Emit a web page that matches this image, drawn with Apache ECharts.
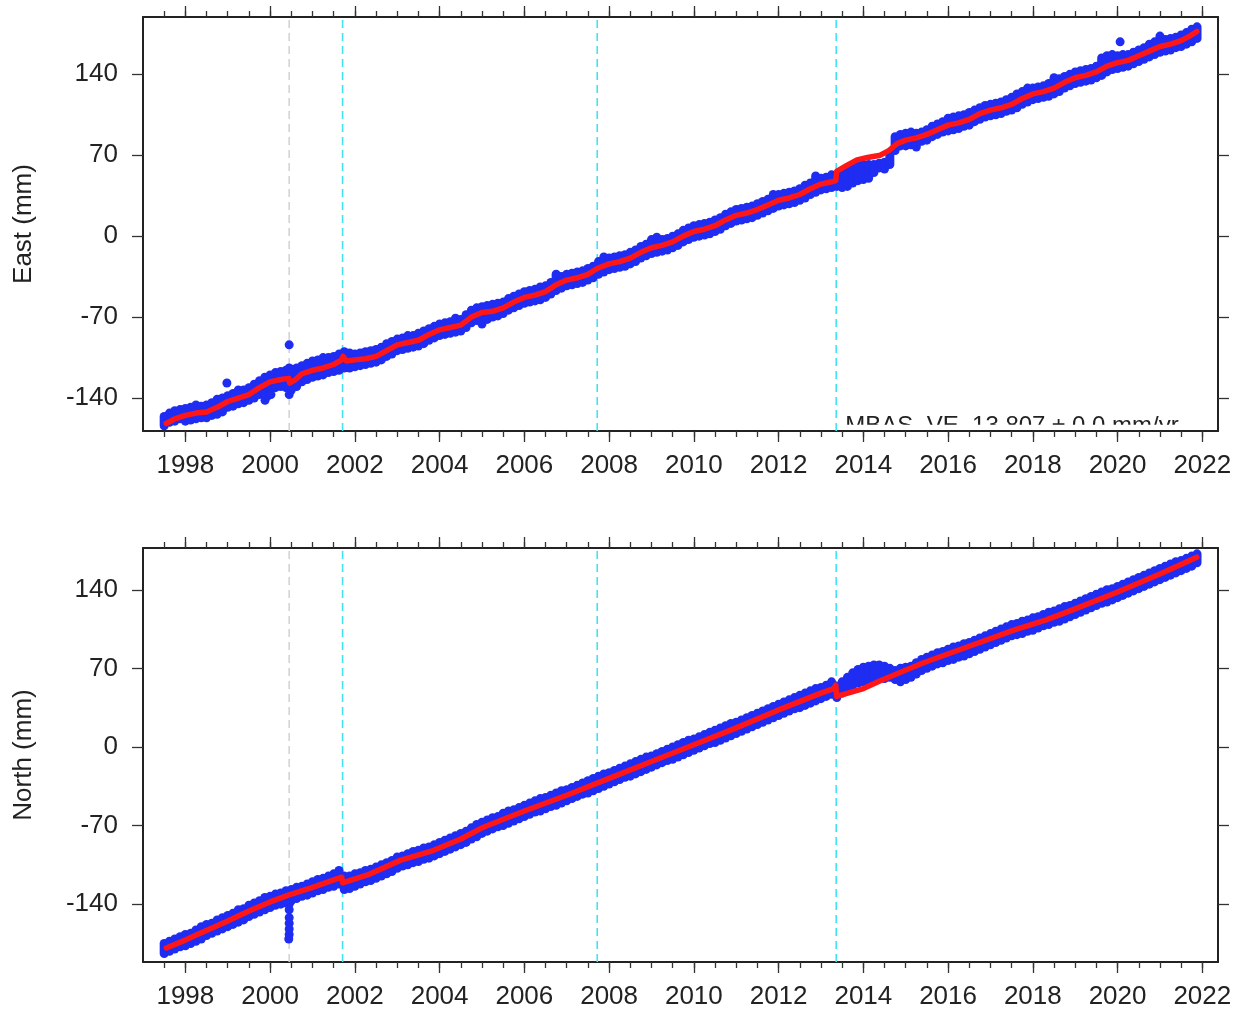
<!DOCTYPE html>
<html>
<head>
<meta charset="utf-8">
<script src="https://cdn.jsdelivr.net/npm/echarts@6/dist/echarts.min.js"></script>
<style>
  html, body { margin: 0; padding: 0; background: #fff; }
  #chart { width: 1244px; height: 1012px; }
</style>
</head>
<body>
<div id="chart"></div>
<script>
// Daily positions are summarised on an eighth-of-a-year grid starting at EPOCH0:
// for each epoch the upper and lower observed value (mm).
const EPOCH0 = 1997.5;
const EPOCH_STEP = 0.125;

// ---------------- East component ----------------
const eastHi = [
  -156, -153, -151, -150,
  -149, -148, -146, -147, -146, -144, -141, -140,   // 1998
  -138, -136, -133, -133, -131, -128, -125, -122,   // 1999
  -120, -118, -117, -116, -115, -114, -112, -110,   // 2000
  -108, -107, -105, -105, -104, -102, -100, -101,   // 2001
  -102, -101, -100, -99, -98, -96, -93, -91,        // 2002
  -89, -88, -86, -86, -84, -82, -80, -78,           // 2003
  -76, -75, -74, -71, -72, -68, -64, -62,           // 2004
  -61, -60, -59, -58, -57, -54, -52, -50,           // 2005
  -48, -47, -46, -44, -43, -40, -33, -35,           // 2006
  -33, -32, -31, -30, -28, -26, -22, -18,           // 2007
  -19, -18, -17, -16, -14, -12, -9, -7,             // 2008
  -3, -1, -3, -2, 0, 2, 5, 7,                       // 2009
  9, 10, 11, 12, 14, 16, 19, 21,                    // 2010
  23, 24, 25, 26, 28, 30, 32, 36,                   // 2011
  36, 37, 38, 39, 41, 44, 46, 52,                   // 2012
  50, 51, 53, 53, 54, 56, 59, 61,                   // 2013
  62, 62, 62, 63, 64, 72, 86, 88,                   // 2014
  89, 90, 89, 90, 92, 95, 97, 99,                   // 2015
  102, 103, 104, 105, 107, 109, 111, 113,           // 2016
  114, 115, 116, 118, 120, 123, 125, 128,           // 2017
  128, 129, 130, 132, 137, 136, 138, 140,           // 2018
  142, 143, 144, 145, 147, 154, 156, 157,           // 2019
  156, 157, 157, 159, 161, 163, 166, 168,           // 2020
  173, 170, 171, 172, 174, 176, 179, 181            // 2021
];
const eastLo = [
  -164, -161, -160, -158,
  -160, -159, -158, -157, -157, -155, -154, -152,   // 1998
  -148, -147, -145, -144, -142, -140, -137, -134,   // 1999
  -133, -131, -130, -131, -133, -130, -126, -124,   // 2000
  -122, -121, -120, -118, -117, -116, -114, -114,   // 2001
  -113, -112, -111, -110, -109, -107, -104, -102,   // 2002
  -99, -98, -97, -96, -95, -93, -90, -88,           // 2003
  -86, -85, -84, -83, -82, -79, -75, -73,           // 2004
  -76, -72, -70, -69, -67, -64, -62, -60,           // 2005
  -58, -57, -56, -55, -53, -50, -47, -45,           // 2006
  -43, -42, -41, -40, -38, -36, -33, -31,           // 2007
  -29, -28, -27, -26, -24, -22, -19, -17,           // 2008
  -15, -14, -13, -12, -10, -8, -5, -3,              // 2009
  -1, 0, 1, 2, 4, 6, 9, 11,                         // 2010
  13, 14, 15, 16, 18, 20, 22, 24,                   // 2011
  26, 27, 28, 29, 31, 33, 36, 38,                   // 2012
  40, 41, 42, 43, 42, 43, 46, 48,                   // 2013
  49, 50, 55, 59, 58, 62, 74, 78,                   // 2014
  78, 79, 77, 82, 83, 86, 88, 90,                   // 2015
  91, 92, 93, 95, 96, 99, 101, 103,                 // 2016
  104, 105, 106, 108, 109, 111, 114, 116,           // 2017
  118, 119, 120, 121, 123, 125, 128, 130,           // 2018
  132, 133, 134, 135, 137, 139, 142, 144,           // 2019
  145, 146, 147, 149, 151, 153, 155, 157,           // 2020
  159, 160, 161, 163, 164, 166, 168, 171            // 2021
];
// isolated East observations
const eastOutT = [1998.98, 1999.88, 1999.95, 2000.02, 2000.45, 2000.45, 2000.45, 2000.45, 2000.45, 2020.06];
const eastOutV = [-127, -142, -138, -137, -94, -114, -122, -130, -137, 168];
// East trajectory model
const eastModelT = [1997.55, 1997.75, 1998.0, 1998.25, 1998.5, 1998.75, 1999.0, 1999.25, 1999.5, 1999.75,
  2000.0, 2000.25, 2000.44, 2000.46, 2000.6, 2000.75, 2001.0, 2001.25, 2001.5, 2001.69, 2001.72, 2001.8,
  2002.0, 2002.25, 2002.5, 2002.75, 2003.0, 2003.25, 2003.5, 2003.75, 2004.0, 2004.25, 2004.5, 2004.75,
  2005.0, 2005.25, 2005.5, 2005.75, 2006.0, 2006.25, 2006.5, 2006.75, 2007.0, 2007.25, 2007.5, 2007.72,
  2008.0, 2008.25, 2008.5, 2008.75, 2009.0, 2009.25, 2009.5, 2009.75, 2010.0, 2010.25, 2010.5, 2010.75,
  2011.0, 2011.25, 2011.5, 2011.75, 2012.0, 2012.25, 2012.5, 2012.75, 2013.0, 2013.25, 2013.35, 2013.37,
  2013.6, 2013.85, 2014.1, 2014.4, 2014.6, 2014.8, 2015.0, 2015.25, 2015.5, 2015.75, 2016.0, 2016.25,
  2016.5, 2016.75, 2017.0, 2017.25, 2017.5, 2017.75, 2018.0, 2018.25, 2018.5, 2018.75, 2019.0, 2019.25,
  2019.5, 2019.75, 2020.0, 2020.25, 2020.5, 2020.75, 2021.0, 2021.25, 2021.5, 2021.7, 2021.87];
const eastModelV = [-162, -158, -155, -153, -152, -148, -143, -140, -137, -131,
  -126, -124, -123, -127, -124, -119, -116, -114, -111, -107, -104, -108,
  -107, -106, -104, -99, -94, -92, -90, -85, -81, -79, -77, -70,
  -66, -65, -62, -57, -53, -51, -48, -42, -38, -36, -33, -28,
  -24, -22, -19, -14, -10, -8, -5, 0, 4, 6, 9, 14,
  18, 20, 23, 27, 31, 33, 36, 41, 45, 47, 48, 56,
  61, 66, 68, 70, 74, 80, 83, 85, 88, 92, 96, 98,
  101, 106, 109, 111, 114, 119, 123, 125, 128, 133, 137, 139,
  142, 147, 150, 152, 156, 160, 164, 166, 169, 173, 177];

// ---------------- North component ----------------
const northHi = [
  -175, -173, -171, -169,
  -167, -166, -163, -160, -158, -157, -154, -152,   // 1998
  -150, -148, -145, -144, -141, -139, -137, -134,   // 1999
  -133, -131, -130, -128, -127, -125, -124, -122,   // 2000
  -120, -118, -117, -115, -113, -110, -115, -115,   // 2001
  -113, -112, -110, -109, -107, -105, -103, -101,   // 2002
  -98, -97, -95, -93, -92, -90, -89, -87,           // 2003
  -85, -83, -81, -79, -77, -75, -72, -69,           // 2004
  -67, -65, -63, -62, -59, -57, -56, -54,           // 2005
  -52, -50, -48, -46, -45, -43, -41, -39,           // 2006
  -38, -36, -34, -32, -30, -28, -26, -24,           // 2007
  -23, -21, -19, -17, -15, -13, -11, -9,            // 2008
  -8, -6, -4, -2, 0, 2, 4, 6,                       // 2009
  7, 9, 11, 13, 15, 17, 19, 21,                     // 2010
  22, 24, 26, 28, 30, 32, 34, 36,                   // 2011
  38, 40, 42, 44, 46, 48, 50, 52,                   // 2012
  53, 55, 58, 54, 58, 62, 66, 69,                   // 2013
  71, 72, 73, 73, 72, 70, 68, 70,                   // 2014
  71, 72, 75, 78, 80, 82, 84, 85,                   // 2015
  87, 89, 90, 92, 93, 95, 97, 99,                   // 2016
  101, 103, 105, 107, 109, 110, 112, 113,           // 2017
  115, 116, 118, 120, 121, 123, 125, 126,           // 2018
  128, 130, 132, 134, 136, 138, 140, 141,           // 2019
  143, 145, 147, 149, 151, 153, 155, 157,           // 2020
  159, 161, 163, 165, 166, 168, 170, 172            // 2021
];
const northLo = [
  -184, -182, -180, -178,
  -177, -175, -173, -171, -168, -166, -164, -162,   // 1998
  -160, -158, -156, -154, -151, -149, -147, -145,   // 1999
  -143, -141, -140, -139, -137, -135, -133, -132,   // 2000
  -130, -128, -127, -125, -124, -122, -127, -126,   // 2001
  -124, -122, -120, -119, -117, -115, -113, -111,   // 2002
  -108, -106, -105, -103, -102, -100, -99, -97,     // 2003
  -95, -93, -91, -89, -87, -85, -82, -80,           // 2004
  -77, -75, -73, -71, -70, -68, -66, -64,           // 2005
  -62, -60, -58, -57, -55, -53, -52, -50,           // 2006
  -48, -46, -44, -42, -41, -39, -37, -35,           // 2007
  -33, -31, -29, -27, -26, -24, -22, -20,           // 2008
  -18, -16, -14, -12, -11, -9, -7, -5,              // 2009
  -3, -1, 1, 3, 4, 6, 8, 10,                        // 2010
  12, 14, 16, 18, 20, 22, 24, 26,                   // 2011
  28, 30, 32, 34, 35, 37, 39, 41,                   // 2012
  43, 45, 47, 44, 48, 51, 55, 57,                   // 2013
  58, 59, 60, 61, 61, 62, 60, 58,                   // 2014
  60, 62, 65, 68, 70, 72, 74, 75,                   // 2015
  77, 78, 80, 81, 83, 85, 87, 89,                   // 2016
  91, 93, 95, 97, 99, 100, 101, 103,                // 2017
  104, 106, 108, 109, 111, 112, 114, 116,           // 2018
  118, 120, 122, 124, 126, 128, 129, 131,           // 2019
  133, 135, 137, 139, 141, 143, 145, 147,           // 2020
  149, 151, 153, 155, 157, 159, 161, 164            // 2021
];
const northOutT = [2000.45, 2000.45, 2000.45, 2000.45, 2000.45, 2000.45, 2000.44];
const northOutV = [-140, -145, -152, -157, -162, -167, -171];
const northModelT = [1997.55, 1998.0, 1998.35, 1999.0, 1999.5, 2000.0, 2000.43, 2001.0, 2001.69, 2001.71,
  2002.3, 2003.07, 2003.86, 2004.5, 2005.0, 2006.0, 2007.0, 2008.0, 2009.0, 2010.0, 2011.0, 2012.0,
  2013.0, 2013.3, 2013.35, 2013.37, 2014.0, 2014.4, 2015.42, 2016.45, 2017.55, 2018.3, 2019.0, 2020.0,
  2021.0, 2021.87];
const northModelV = [-179, -172, -166, -155, -146, -138, -132, -125, -116, -121,
  -114, -101, -92, -82, -72, -57, -43, -28, -13, 2, 17, 33,
  48, 52, 55, 45, 52, 59, 75, 89, 104, 113, 123, 138,
  154, 169];

// ---------------- events and axes ----------------
const grayEvents = [2000.45];
const cyanEvents = [2001.71, 2007.72, 2013.36];
const yearLabels = [1998, 2000, 2002, 2004, 2006, 2008, 2010, 2012, 2014, 2016, 2018, 2020, 2022];
const valueLabels = [-140, -70, 0, 70, 140];
const panelNames = ['East (mm)', 'North (mm)'];
const rateText = 'MBAS  VE  13.807 \u00b1 0.0 mm/yr.';

const X_MIN = 1997.0, X_MAX = 2022.37;
const Y_RANGE = [[-168.5, 189.5], [-191.5, 177.2]];

const halfYearTicks = [];
for (let t = 1997.5; t <= 2022.01; t += 0.5) halfYearTicks.push(+t.toFixed(1));

const FONT = 'Liberation Sans, Arial, Helvetica, sans-serif';
const INK = '#222';
const BLUE = '#1f2cf2';
const RED = '#ff1616';
const DOT = 9;

function epochRows(hi, lo) {
  return hi.map((h, i) => [EPOCH0 + i * EPOCH_STEP, h, lo[i]]);
}
function zip(a, b) { return a.map((v, i) => [v, b[i]]); }

const grids = [
  { left: 143, top: 17, width: 1075, height: 414 },
  { left: 143, top: 548, width: 1075, height: 414 }
];

const xAxis = [];
const yAxis = [];
const series = [];

function tickAxis(g, pos, ticks, len, showLine, showLabel) {
  return {
    type: 'value', gridIndex: g, min: X_MIN, max: X_MAX, position: pos,
    splitLine: { show: false },
    axisLine: { show: showLine, onZero: false, lineStyle: { color: INK, width: 2 } },
    axisTick: { show: true, customValues: ticks, length: len, lineStyle: { color: '#333', width: 1.3 } },
    axisLabel: showLabel
      ? { show: true, customValues: yearLabels, formatter: v => String(Math.round(v)),
          fontSize: 26, fontFamily: FONT, color: INK, margin: 22 }
      : { show: false }
  };
}

// each epoch: a rounded stroke spanning the observed spread
function spreadRenderer(params, api) {
  const a = api.coord([api.value(0), api.value(1)]);
  const b = api.coord([api.value(0), api.value(2)]);
  return {
    type: 'line',
    shape: { x1: a[0], y1: a[1], x2: b[0], y2: b[1] },
    style: { stroke: BLUE, lineWidth: DOT, lineCap: 'round' }
  };
}

[0, 1].forEach(g => {
  xAxis.push(tickAxis(g, 'bottom', yearLabels, 11, true, true));
  xAxis.push(tickAxis(g, 'bottom', halfYearTicks, 6, false, false));
  xAxis.push(tickAxis(g, 'top', yearLabels, 11, true, false));
  xAxis.push(tickAxis(g, 'top', halfYearTicks, 6, false, false));

  const [ymin, ymax] = Y_RANGE[g];
  yAxis.push({
    type: 'value', gridIndex: g, min: ymin, max: ymax, position: 'left',
    name: panelNames[g], nameLocation: 'middle', nameGap: 106,
    nameTextStyle: { fontSize: 26, fontFamily: FONT, color: INK },
    splitLine: { show: false },
    axisLine: { show: true, onZero: false, lineStyle: { color: INK, width: 2 } },
    axisTick: { show: true, customValues: valueLabels, length: 11, lineStyle: { color: '#333', width: 1.3 } },
    axisLabel: { customValues: valueLabels, fontSize: 26, fontFamily: FONT, color: INK, margin: 25 }
  });
  yAxis.push({
    type: 'value', gridIndex: g, min: ymin, max: ymax, position: 'right',
    splitLine: { show: false },
    axisLine: { show: true, onZero: false, lineStyle: { color: INK, width: 2 } },
    axisTick: { show: true, customValues: valueLabels, length: 11, lineStyle: { color: '#333', width: 1.3 } },
    axisLabel: { show: false }
  });

  const xi = g * 4, yi = g * 2;
  // event markers
  grayEvents.concat(cyanEvents).forEach(t => {
    const gray = grayEvents.indexOf(t) >= 0;
    series.push({
      type: 'line', xAxisIndex: xi, yAxisIndex: yi, z: 1, silent: true,
      showSymbol: false, symbol: 'none',
      data: [[t, ymin], [t, ymax]],
      lineStyle: { color: gray ? '#d4d4d4' : '#3fe3f2', width: 1.6, type: [8, 5] }
    });
  });
  // observations
  series.push({
    type: 'custom', xAxisIndex: xi, yAxisIndex: yi, z: 2, silent: true,
    renderItem: spreadRenderer,
    encode: { x: 0, y: [1, 2] },
    data: g === 0 ? epochRows(eastHi, eastLo) : epochRows(northHi, northLo)
  });
  series.push({
    type: 'scatter', xAxisIndex: xi, yAxisIndex: yi, z: 2, silent: true,
    symbol: 'circle', symbolSize: DOT,
    itemStyle: { color: BLUE, opacity: 1 },
    data: g === 0 ? zip(eastOutT, eastOutV) : zip(northOutT, northOutV)
  });
  // model
  series.push({
    type: 'line', xAxisIndex: xi, yAxisIndex: yi, z: 3, silent: true,
    showSymbol: false, symbol: 'none',
    lineStyle: { color: RED, width: 5.5, cap: 'round', join: 'round' },
    data: g === 0 ? zip(eastModelT, eastModelV) : zip(northModelT, northModelV)
  });
});

// rate annotation of the East panel; only the top of its glyphs shows above the frame
series.push({
  type: 'custom', xAxisIndex: 0, yAxisIndex: 0, z: 4, silent: true, clip: true,
  data: [[2013.575, -154.35]],
  renderItem: function (params, api) {
    const p = api.coord([api.value(0), api.value(1)]);
    const bottom = api.coord([api.value(0), Y_RANGE[0][0]])[1];
    return {
      type: 'group',
      children: [
        { type: 'text', x: p[0], y: p[1], z2: 1,
          style: { text: rateText, font: '24px ' + FONT, fill: INK, verticalAlign: 'top', align: 'left' } },
        { type: 'rect', z2: 5, shape: { x: p[0] - 4, y: p[1] + 10, width: 360, height: bottom - p[1] - 11 },
          style: { fill: '#fff' } }
      ]
    };
  }
});

const chart = echarts.init(document.getElementById('chart'), null, { renderer: 'canvas' });
chart.setOption({
  animation: false,
  backgroundColor: '#fff',
  grid: grids,
  xAxis: xAxis,
  yAxis: yAxis,
  series: series
});
</script>
</body>
</html>
